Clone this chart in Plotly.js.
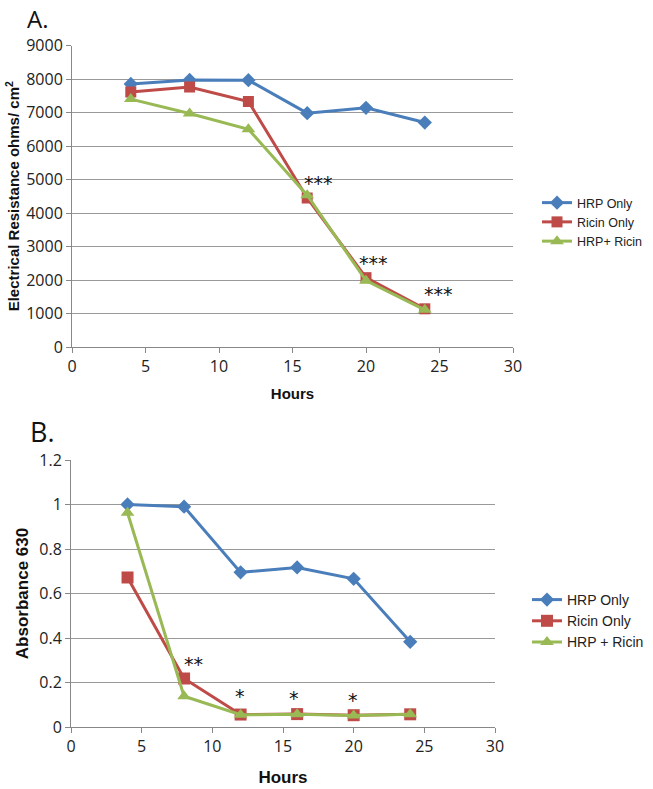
<!DOCTYPE html>
<html>
<head>
<meta charset="utf-8">
<script src="https://cdn.plot.ly/plotly-3.0.1.min.js"></script>
<style>
  html, body { margin: 0; padding: 0; background: #fff; }
  #chart { width: 653px; height: 789px; }
</style>
</head>
<body>
<div id="chart"></div>
<script>
// hours sampled
var hours = [4, 8, 12, 16, 20, 24];

// panel A: electrical resistance (ohms/cm2)
var resHrp = [7850, 7970, 7965, 6980, 7140, 6700];
var resRicin = [7610, 7760, 7330, 4450, 2070, 1140];
var resBoth = [7400, 6970, 6500, 4530, 1980, 1110];

// panel B: absorbance 630
var absHrp = [1.0, 0.99, 0.695, 0.717, 0.666, 0.383];
var absRicin = [0.672, 0.218, 0.056, 0.058, 0.053, 0.057];
var absBoth = [0.963, 0.138, 0.055, 0.057, 0.052, 0.057];

// significance stars
var starA = {x: [16.8, 20.5, 24.9], y: [4900, 2500, 1580], text: ['***', '***', '***']};
var starB = {x: [8.7, 11.95, 15.8, 19.95], y: [0.282, 0.138, 0.13, 0.122], text: ['**', '*', '*', '*']};

var blue = '#4a7ebb', red = '#be4b48', green = '#98b954';

function series(x, y, name, color, symbol, size, xa, ya, leg) {
  return {
    x: x, y: y, name: name, type: 'scatter', mode: 'lines+markers',
    xaxis: xa, yaxis: ya, legend: leg,
    line: {color: color, width: 3},
    marker: {color: color, symbol: symbol, size: size}
  };
}

var traces = [
  series(hours, resHrp, 'HRP Only', blue, 'diamond', 11, 'x', 'y', 'legend'),
  series(hours, resRicin, 'Ricin Only', red, 'square', 11, 'x', 'y', 'legend'),
  series(hours, resBoth, 'HRP+ Ricin', green, 'triangle-up', 12, 'x', 'y', 'legend'),
  series(hours, absHrp, 'HRP Only', blue, 'diamond', 11, 'x2', 'y2', 'legend2'),
  series(hours, absRicin, 'Ricin Only', red, 'square', 12, 'x2', 'y2', 'legend2'),
  series(hours, absBoth, 'HRP + Ricin', green, 'triangle-up', 12, 'x2', 'y2', 'legend2')
];

var W = 653, H = 789;
function tickFont(s) { return {family: 'Open Sans, Liberation Sans, sans-serif', size: s, color: '#222'}; }
function titleFont(s) { return {family: 'Liberation Sans, Arial, sans-serif', size: s, color: '#111', weight: 'bold'}; }

function xaxis(dom, anchor, fs, ts, so) {
  return {
    domain: dom, anchor: anchor, range: [0, 30], dtick: 5, tick0: 0,
    showgrid: false, zeroline: false, showline: true, linecolor: '#888', linewidth: 1,
    ticks: 'outside', ticklen: 5, tickcolor: '#888', tickfont: tickFont(fs),
    title: {text: '<b>Hours</b>', font: titleFont(ts), standoff: so}
  };
}
function yaxis(dom, anchor, range, dtick, title, fs, ts, so) {
  return {
    domain: dom, anchor: anchor, range: range, dtick: dtick, tick0: 0,
    showgrid: true, gridcolor: '#999', gridwidth: 1, zeroline: false,
    showline: true, linecolor: '#888', linewidth: 1,
    ticks: 'outside', ticklen: 5, tickcolor: '#888', tickfont: tickFont(fs),
    title: {text: title, font: titleFont(ts), standoff: so}
  };
}

function stars(s, xa, ya) {
  return s.x.map(function (v, i) {
    return {x: v, y: s.y[i], xref: xa, yref: ya, text: s.text[i], showarrow: false,
      font: {family: 'DejaVu Sans, sans-serif', size: 19, color: '#111'}};
  });
}

var layout = {
  width: W, height: H,
  margin: {l: 0, r: 0, t: 0, b: 0},
  paper_bgcolor: '#fff', plot_bgcolor: '#fff',
  showlegend: true,
  xaxis: xaxis([72 / W, 513 / W], 'y', 16, 15, 12),
  yaxis: yaxis([1 - 347 / H, 1 - 45.5 / H], 'x', [0, 9000], 1000,
    '<b>Electrical Resistance ohms/ cm<sup>2</sup></b>', 16, 15, 2),
  xaxis2: xaxis([71 / W, 495 / W], 'y2', 16, 17, 14),
  yaxis2: yaxis([1 - 727 / H, 1 - 460 / H], 'x2', [0, 1.2], 0.2, '<b>Absorbance 630</b>', 16, 17, 6),
  legend: {x: 537 / W, y: 1 - 188 / H, xanchor: 'left', yanchor: 'top',
    font: {family: 'Liberation Sans, Arial, sans-serif', size: 12.5, color: '#222'},
    itemwidth: 30, tracegroupgap: 0, bgcolor: 'rgba(0,0,0,0)'},
  legend2: {x: 527 / W, y: 1 - 584 / H, xanchor: 'left', yanchor: 'top',
    font: {family: 'Liberation Sans, Arial, sans-serif', size: 14, color: '#222'},
    itemwidth: 30, tracegroupgap: 0, bgcolor: 'rgba(0,0,0,0)'},
  annotations: stars(starA, 'x', 'y').concat(stars(starB, 'x2', 'y2')).concat([
    {x: 25 / W, y: 1, xref: 'paper', yref: 'paper', text: 'A.', showarrow: false,
      xanchor: 'left', yanchor: 'top', font: {family: 'Open Sans, sans-serif', size: 24, color: '#111'}},
    {x: 28 / W, y: 1 - 411 / H, xref: 'paper', yref: 'paper', text: 'B.', showarrow: false,
      xanchor: 'left', yanchor: 'top', font: {family: 'Open Sans, sans-serif', size: 27, color: '#111'}}
  ])
};

Plotly.newPlot('chart', traces, layout, {displayModeBar: false, staticPlot: true});
</script>
</body>
</html>
